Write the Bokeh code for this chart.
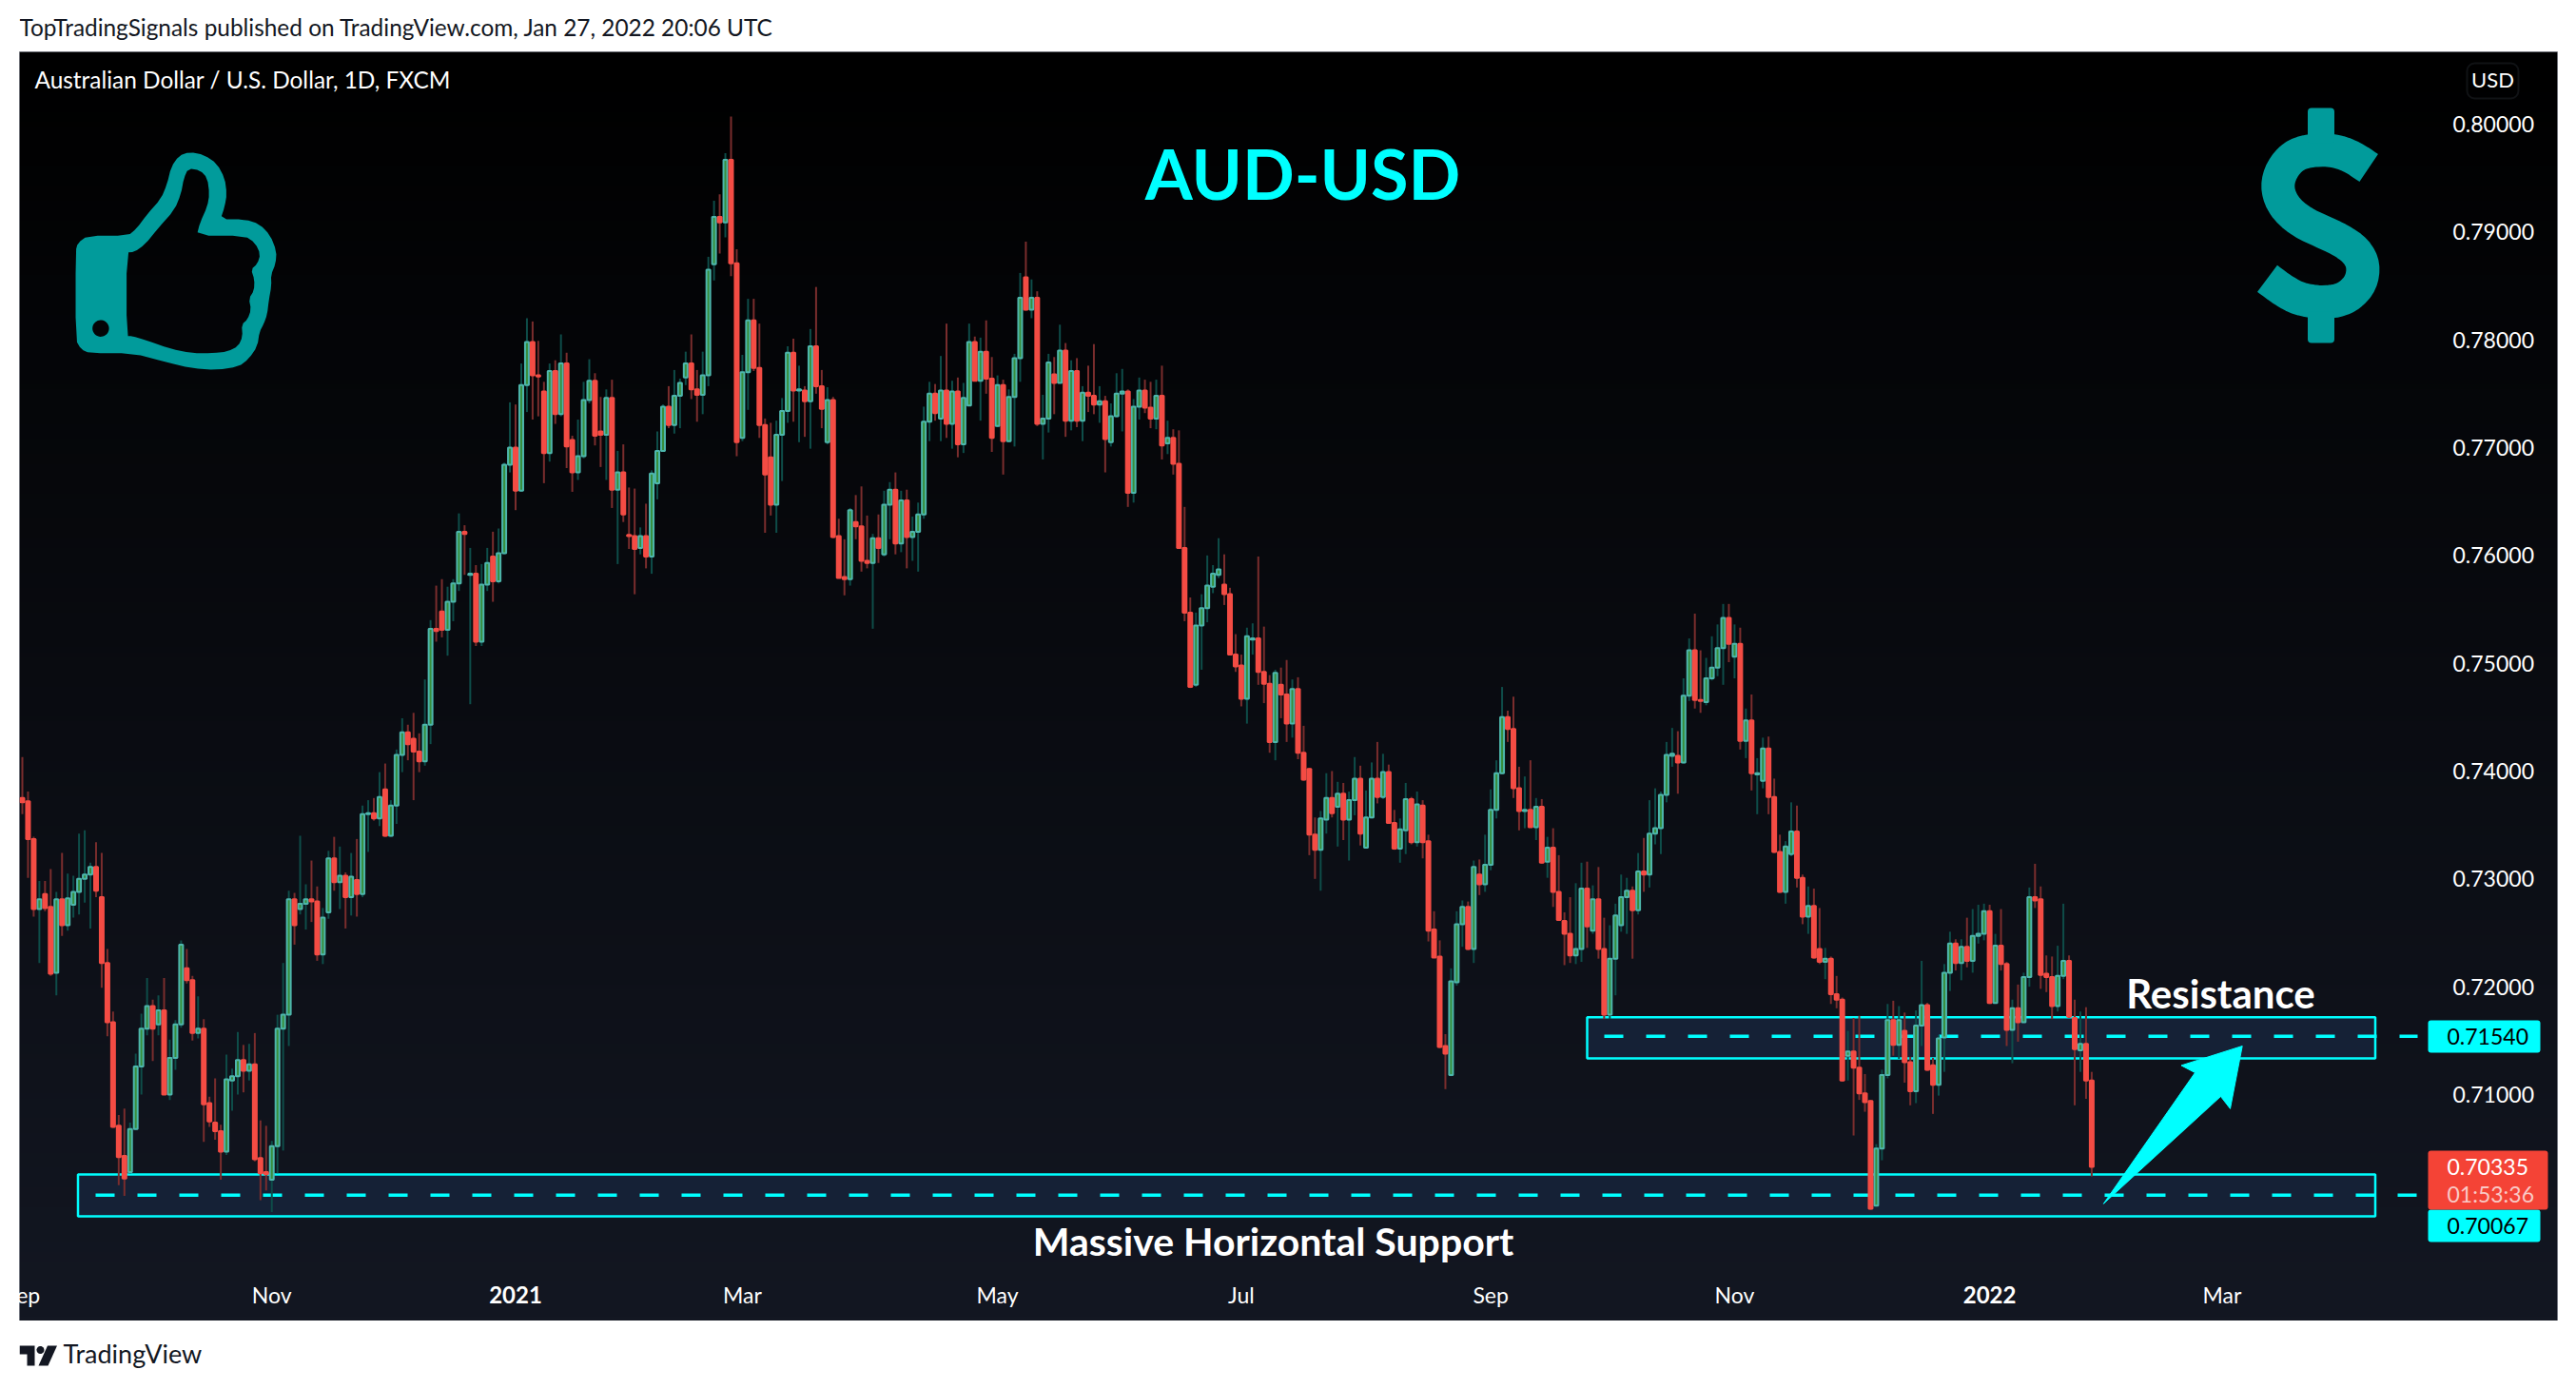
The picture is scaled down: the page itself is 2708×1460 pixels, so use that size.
import numpy as np
from bokeh.plotting import figure
from bokeh.layouts import column
from bokeh.embed import file_html
from bokeh.resources import INLINE
from bokeh.core.properties import value
from bokeh.models import (Range1d, LinearAxis, FixedTicker, PrintfTickFormatter, BoxAnnotation)

# AUD/USD daily candles, in pips (1 pip = 0.0001)
opens = [
 7375,7372,7337,7272,7286,7274,7213,7281,7257,7276, 7288,7300,7304,7311,7283,7222,7167,7071,7043,7028,
 7068,7126,7161,7182,7165,7178,7100,7134,7165,7217, 7206,7157,7161,7092,7074,7066,7047,7113,7117,7132,
 7122,7128,7041,7028,7021,7052,7161,7174,7281,7272, 7277,7281,7279,7230,7269,7319,7297,7303,7283,7299,
 7286,7360,7361,7356,7383,7340,7368,7415,7436,7430, 7418,7409,7443,7532,7548,7531,7557,7574,7622,7582,
 7583,7520,7573,7599,7576,7602,7684,7700,7660,7758, 7798,7767,7752,7695,7771,7731,7778,7707,7677,7692,
 7744,7762,7715,7712,7746,7661,7677,7619,7618,7607, 7618,7599,7667,7697,7738,7721,7748,7765,7778,7754,
 7749,7767,7870,7914,7909,7967,7871,7709,7770,7818, 7774,7721,7691,7647,7712,7734,7788,7753,7753,7743,
 7794,7757,7705,7744,7618,7580,7578,7631,7627,7595, 7593,7616,7601,7647,7661,7611,7651,7617,7622,7638,
 7724,7750,7727,7753,7722,7752,7703,7739,7798,7762, 7789,7764,7720,7758,7706,7747,7783,7858,7828,7839,
 7722,7727,7768,7760,7790,7725,7771,7725,7751,7748, 7740,7743,7705,7729,7750,7752,7658,7738,7753,7737,
 7727,7748,7704,7709,7685,7607,7547,7480,7535,7551, 7571,7582,7573,7564,7508,7498,7467,7522,7523,7492,
 7481,7427,7480,7471,7444,7476,7417,7402,7341,7327, 7355,7375,7367,7379,7355,7373,7393,7329,7357,7393,
 7376,7399,7352,7328,7345,7374,7334,7368,7335,7253, 7228,7145,7118,7204,7258,7274,7235,7304,7295,7313,
 7364,7398,7450,7439,7384,7363,7364,7348,7367,7316, 7329,7288,7261,7249,7229,7235,7291,7252,7281,7235,
 7174,7226,7257,7283,7289,7271,7307,7304,7342,7347, 7378,7414,7414,7408,7470,7512,7466,7464,7486,7496,
 7514,7542,7506,7518,7428,7447,7397,7391,7421,7376, 7325,7288,7323,7344,7301,7265,7275,7235,7223,7226,
 7193,7188,7136,7140,7125,7101,7094,6997,7050,7118, 7169,7146,7159,7130,7103,7164,7183,7127,7109,7153,
 7213,7240,7222,7237,7224,7247,7249,7270,7185,7238, 7221,7160,7180,7167,7209,7283,7281,7212,7209,7182,
 7210,7224,7171,7141,7147,7113]
highs = [
 7413,7381,7339,7298,7298,7309,7288,7324,7305,7303, 7342,7345,7315,7334,7324,7235,7177,7081,7087,7074,
 7138,7175,7208,7188,7192,7208,7151,7169,7243,7235, 7210,7191,7170,7098,7115,7072,7137,7124,7158,7146,
 7147,7157,7076,7071,7057,7174,7222,7289,7287,7340, 7295,7317,7293,7273,7326,7339,7330,7306,7324,7337,
 7368,7373,7375,7399,7407,7373,7420,7449,7443,7454, 7435,7485,7540,7572,7578,7571,7578,7639,7628,7607,
 7591,7592,7607,7622,7625,7686,7742,7740,7778,7820, 7817,7799,7761,7778,7781,7805,7788,7711,7726,7761,
 7782,7769,7747,7754,7763,7697,7703,7663,7662,7626, 7648,7679,7715,7740,7757,7772,7764,7789,7805,7772,
 7789,7877,7929,7935,7973,8007,7884,7786,7838,7838, 7815,7727,7723,7725,7746,7794,7801,7776,7757,7810,
 7849,7772,7756,7747,7634,7615,7644,7656,7664,7637, 7620,7638,7660,7668,7677,7660,7661,7636,7649,7738,
 7761,7759,7785,7815,7762,7765,7760,7815,7803,7802, 7818,7784,7767,7763,7754,7787,7862,7891,7856,7845,
 7749,7787,7784,7814,7797,7781,7783,7757,7776,7796, 7757,7748,7741,7769,7773,7754,7745,7765,7763,7761,
 7763,7776,7725,7717,7716,7645,7561,7547,7564,7600, 7591,7616,7601,7570,7527,7508,7533,7537,7599,7534,
 7489,7494,7496,7503,7485,7487,7442,7403,7357,7363, 7398,7400,7390,7389,7381,7413,7405,7382,7408,7427,
 7416,7406,7364,7356,7389,7376,7381,7373,7341,7270, 7243,7156,7217,7270,7280,7279,7317,7318,7341,7383,
 7410,7478,7456,7469,7404,7395,7410,7375,7374,7339, 7347,7322,7269,7283,7296,7315,7316,7294,7311,7264,
 7257,7277,7304,7301,7293,7324,7338,7373,7384,7381, 7427,7440,7437,7486,7523,7546,7512,7505,7525,7536,
 7555,7555,7536,7533,7458,7471,7412,7431,7432,7393, 7341,7335,7371,7368,7304,7293,7291,7273,7236,7228,
 7210,7190,7159,7171,7173,7119,7095,7054,7123,7184, 7187,7182,7176,7135,7178,7224,7185,7134,7155,7221,
 7251,7244,7244,7264,7272,7276,7277,7276,7249,7272, 7223,7188,7202,7213,7292,7314,7293,7229,7228,7238,
 7277,7229,7188,7177,7181,7121]
lows = [
 7360,7301,7265,7222,7270,7210,7192,7247,7252,7264, 7267,7278,7254,7283,7199,7154,7069,7016,7006,7027,
 7067,7100,7155,7131,7155,7100,7095,7123,7162,7203, 7150,7152,7056,7070,7058,7021,7044,7085,7100,7102,
 7113,7038,7002,7011,6991,7027,7048,7145,7239,7267, 7253,7260,7224,7221,7263,7289,7272,7254,7266,7265,
 7283,7325,7354,7349,7339,7339,7351,7399,7410,7373, 7399,7405,7425,7520,7524,7507,7539,7567,7582,7462,
 7516,7516,7567,7557,7574,7601,7677,7642,7659,7733, 7726,7729,7667,7687,7722,7729,7681,7659,7670,7690,
 7741,7702,7682,7670,7644,7592,7631,7606,7564,7601, 7588,7583,7652,7696,7718,7713,7718,7758,7745,7724,
 7731,7757,7855,7880,7895,7859,7692,7706,7735,7771, 7709,7621,7637,7621,7669,7723,7724,7705,7710,7699,
 7750,7718,7703,7616,7579,7563,7572,7615,7585,7588, 7532,7593,7599,7615,7601,7603,7588,7595,7585,7634,
 7706,7725,7706,7709,7699,7691,7695,7739,7762,7725, 7750,7696,7719,7675,7705,7701,7761,7827,7820,7720,
 7689,7714,7731,7760,7710,7716,7719,7706,7733,7731, 7723,7677,7701,7728,7715,7645,7649,7726,7732,7718,
 7717,7689,7694,7675,7606,7539,7477,7478,7494,7538, 7565,7579,7554,7508,7492,7460,7444,7508,7480,7463,
 7417,7410,7449,7427,7431,7411,7391,7322,7300,7289, 7342,7357,7330,7336,7317,7359,7331,7328,7356,7370,
 7374,7352,7327,7315,7323,7332,7330,7319,7242,7227, 7143,7105,7117,7201,7237,7234,7222,7285,7288,7308,
 7356,7397,7427,7375,7345,7347,7348,7336,7314,7301, 7274,7261,7220,7222,7221,7223,7236,7249,7226,7170,
 7170,7192,7251,7249,7226,7267,7288,7292,7332,7323, 7371,7404,7379,7407,7465,7458,7454,7461,7484,7488,
 7480,7501,7486,7420,7412,7382,7360,7384,7360,7324, 7287,7277,7321,7292,7258,7249,7226,7221,7207,7184,
 7180,7112,7113,7062,7095,7084,6993,6996,7039,7115, 7136,7133,7111,7090,7092,7145,7122,7082,7099,7121,
 7196,7215,7206,7218,7213,7240,7243,7184,7185,7215, 7145,7129,7149,7167,7200,7273,7198,7195,7170,7177,
 7207,7171,7090,7121,7096,7024]
closes = [
 7371,7337,7272,7281,7273,7212,7281,7257,7282,7288, 7300,7304,7311,7289,7222,7167,7070,7042,7022,7068,
 7126,7161,7182,7161,7178,7100,7134,7165,7239,7206, 7157,7161,7091,7075,7066,7047,7114,7117,7132,7122,
 7128,7040,7027,7026,7052,7161,7174,7281,7257,7277, 7281,7279,7230,7264,7319,7297,7303,7283,7302,7286,
 7360,7361,7356,7376,7340,7368,7415,7436,7425,7418, 7409,7443,7532,7530,7531,7557,7574,7622,7620,7583,
 7520,7573,7593,7576,7602,7684,7700,7660,7758,7798, 7767,7766,7695,7771,7731,7778,7701,7677,7692,7744,
 7762,7711,7712,7746,7661,7677,7638,7618,7606,7618, 7599,7676,7697,7738,7721,7748,7760,7778,7754,7749,
 7767,7865,7914,7909,7967,7871,7705,7770,7818,7774, 7721,7675,7647,7712,7734,7788,7753,7754,7743,7794,
 7757,7736,7744,7617,7579,7578,7642,7627,7595,7593, 7616,7607,7647,7661,7611,7651,7617,7622,7638,7724,
 7750,7732,7753,7722,7752,7703,7746,7798,7762,7789, 7764,7709,7758,7706,7747,7783,7839,7828,7839,7722,
 7727,7779,7760,7790,7725,7771,7725,7751,7748,7740, 7743,7708,7729,7750,7752,7658,7738,7753,7737,7727,
 7748,7702,7709,7685,7607,7547,7478,7535,7551,7572, 7583,7587,7564,7508,7497,7467,7525,7523,7492,7481,
 7427,7491,7471,7444,7476,7417,7392,7341,7327,7356, 7375,7361,7379,7355,7373,7393,7342,7357,7393,7376,
 7399,7352,7328,7346,7374,7334,7369,7334,7252,7227, 7144,7138,7205,7258,7274,7235,7311,7295,7313,7364,
 7398,7450,7439,7384,7363,7364,7348,7367,7315,7329, 7288,7262,7249,7229,7235,7291,7256,7281,7235,7174,
 7226,7266,7283,7289,7271,7307,7304,7342,7347,7378, 7415,7416,7408,7470,7512,7466,7465,7486,7496,7514,
 7542,7518,7518,7428,7447,7398,7398,7421,7376,7325, 7288,7330,7344,7301,7265,7275,7227,7223,7226,7193,
 7188,7113,7140,7125,7101,7093,6994,7050,7118,7169, 7146,7169,7130,7103,7164,7183,7123,7109,7152,7213,
 7240,7222,7237,7224,7247,7249,7270,7185,7238,7221, 7160,7180,7167,7209,7283,7280,7211,7209,7182,7210,
 7224,7172,7142,7147,7113,7033]

price_ticks = [0.71, 0.72, 0.73, 0.74, 0.75, 0.76, 0.77, 0.78, 0.79, 0.80]
month_idx = [44, 127, 172, 215, 259, 302, 388]
month_labels = ["Nov", "Mar", "May", "Jul", "Sep", "Nov", "Mar"]
year_idx = [87, 347]
year_labels = ["2021", "2022"]
support_price = 0.70067
support_top = 0.70259
support_bottom = 0.69870
resist_price = 0.71540
resist_top = 0.71717
resist_bottom = 0.71335
last_price = 0.70335

CYAN = "#00FFFF"
TEAL = "#019B9B"
FONT = "Lato"
TXT = "#FFFFFF"
DARK = "#131722"

def X(px):
    return (np.asarray(px, dtype=float) - 23.0) / 5.96

def Y(py):
    return 0.80 - (np.asarray(py, dtype=float) - 130.0) / 11333.0

def chaikin(xs, ys, closed=True, n=1):
    pts = np.column_stack([xs, ys]).astype(float)
    for _ in range(n):
        if closed:
            nxt = np.roll(pts, -1, axis=0)
            pts = np.column_stack([0.75*pts + 0.25*nxt, 0.25*pts + 0.75*nxt]).reshape(-1, 2)
        else:
            a, b = pts[:-1], pts[1:]
            mid = np.column_stack([0.75*a + 0.25*b, 0.25*a + 0.75*b]).reshape(-1, 2)
            pts = np.vstack([pts[0], mid, pts[-1]])
    return pts[:, 0], pts[:, 1]

o = np.array(opens) / 1e4
h = np.array(highs) / 1e4
l = np.array(lows) / 1e4
c = np.array(closes) / 1e4
idx = np.arange(len(o))
up = c >= o

p = figure(frame_width=2668, frame_height=1334, output_backend="svg", toolbar_location=None,
           x_range=Range1d(float(X(20)), float(X(2688))), y_range=Range1d(float(Y(1388)), float(Y(54))),
           x_axis_location=None, y_axis_location=None, min_border_left=20, min_border_right=20,
           min_border_top=0, min_border_bottom=0, background_fill_color="#000000",
           border_fill_color="#FFFFFF", outline_line_color="#9598A1", outline_line_width=1)
p.grid.visible = False

# vertical background gradient
top_c, bot_c = np.array([0, 0, 0]), np.array([19, 23, 34])
grad = np.zeros((256, 1), dtype=np.uint32)
view = grad.view(dtype=np.uint8).reshape((256, 1, 4))
for i in range(256):
    col = bot_c + (top_c - bot_c) * (i / 255)
    view[i, 0] = [int(col[0]), int(col[1]), int(col[2]), 255]
p.image_rgba(image=[grad], x=float(X(20)), y=float(Y(1388)), dw=float(X(2688) - X(20)),
             dh=float(Y(54) - Y(1388)), level="image")

# zones
ZONE = "#152136"
p.quad(left=[float(X(81.5)), float(X(1668))], right=[float(X(2496.5)), float(X(2496.5))],
       top=[support_top, resist_top], bottom=[support_bottom, resist_bottom],
       fill_color=ZONE, line_color=CYAN, line_width=2.5)
p.line([float(X(100)), float(X(2541))], [support_price, support_price], line_color=CYAN,
       line_width=3.5, line_dash="20 24")
p.line([float(X(1686)), float(X(2541))], [resist_price, resist_price], line_color=CYAN,
       line_width=3.5, line_dash="20 24")

# candles
p.segment(idx[up], h[up], idx[up], l[up], line_color="#0E4D49", line_width=2)
p.segment(idx[~up], h[~up], idx[~up], l[~up], line_color="#7A2D2D", line_width=2)
bw = 4 / 5.96
p.vbar(x=idx[up], width=bw, top=c[up], bottom=o[up], fill_color="#388E3C", line_color="#4DB6AC", line_width=2)
p.vbar(x=idx[~up], width=bw, top=o[~up], bottom=c[~up], fill_color="#F44C44", line_color="#F44C44", line_width=2)

# real axes, with their labels drawn inside the chart as TradingView does
ax_r = LinearAxis(ticker=FixedTicker(ticks=price_ticks), formatter=PrintfTickFormatter(format="%.5f"),
                  axis_line_color=None, major_tick_line_color=None, minor_tick_line_color=None,
                  major_label_standoff=-116, major_label_text_color=TXT, major_label_text_font=FONT,
                  major_label_text_font_size="23px")
p.add_layout(ax_r, "right")
ax_b = LinearAxis(ticker=FixedTicker(ticks=month_idx),
                  major_label_overrides={i: t for i, t in zip(month_idx, month_labels)},
                  axis_line_color=None, major_tick_line_color=None, minor_tick_line_color=None,
                  major_label_standoff=-48, major_label_text_color=TXT, major_label_text_font=FONT,
                  major_label_text_font_size="23px")
p.add_layout(ax_b, "below")

def txt(px, py, s, size, color=TXT, style="normal", align="left", level="overlay"):
    p.text([float(X(px))], [float(Y(py))], text=[s], text_font=value(FONT), text_font_size=size,
           text_color=color, text_font_style=style, text_align=align, text_baseline="middle", level=level)

# year ticks (bold) and the clipped first month
for i, s in zip(year_idx, year_labels):
    p.text([i], [float(Y(1360))], text=[s], text_font=value(FONT), text_font_size="24px", text_color=TXT,
           text_font_style="bold", text_align="center", text_baseline="middle", level="overlay")
p.text([0], [float(Y(1360))], text=["Sep"], text_font=value(FONT), text_font_size="23px", text_color=TXT,
       text_align="center", text_baseline="middle", level="overlay")

# chart annotations
txt(36, 83, "Australian Dollar / U.S. Dollar, 1D, FXCM", "24.4px")
txt(1369, 181, "AUD-USD", "72px", color=CYAN, style="bold", align="center")
txt(1338, 1304, "Massive Horizontal Support", "41px", style="bold", align="center")
txt(2334, 1043, "Resistance", "42px", style="bold", align="center")

# arrow
ax_px = [2210.8, 2307, 2292.5, 2356.7, 2344, 2334]
ay_px = [1264.8, 1127, 1119.4, 1099, 1164.9, 1152]
p.patch(X(ax_px), Y(ay_px), fill_color=CYAN, line_color=CYAN, line_width=1, line_join="round")

# USD box
p.add_layout(BoxAnnotation(left=float(X(2593)), right=float(X(2647)), top=float(Y(66)), bottom=float(Y(103)),
                           fill_alpha=0, line_color="#363A45", line_width=2, border_radius=8))
txt(2620, 83, "USD", "22px", align="center")

# price badges
for top, bot, right, col in [(1072, 1106, 2670, CYAN), (1271, 1305, 2670, CYAN), (1209, 1271, 2678, "#F44336")]:
    p.add_layout(BoxAnnotation(left=float(X(2552)), right=float(X(right)), top=float(Y(top)), bottom=float(Y(bot)),
                               fill_color=col, fill_alpha=1, line_color=None, border_radius=3))
txt(2572, 1089, f"{resist_price:.5f}", "23px", color="#000000")
txt(2572, 1288, f"{support_price:.5f}", "23px", color="#000000")
txt(2572, 1226, f"{last_price:.5f}", "23px")
txt(2572, 1254, "01:53:36", "23px", color="#F9C9C5")

# thumb icon
tx_o = [177,182,205,300,320,345,378,392,402,420,445,480,510,528,533,528,518,575,610,635,650,648,637,638,632,628,620,610,605,585,560,510,450,390,310,210,190,177]
ty_o = [790,765,742,742,720,675,625,580,525,490,478,487,515,560,610,650,690,690,705,740,790,830,865,900,945,990,1020,1045,1090,1130,1155,1165,1160,1140,1112,1112,1100,1070]
tx_i = [297,315,340,370,410,425,432,442,470,487,492,487,470,462,575,600,612,605,590,598,597,585,590,582,568,570,560,535,500,450,400,340,310,297]
ty_i = [795,793,770,720,660,610,560,530,535,560,610,650,700,742,742,765,800,830,848,880,915,940,975,1005,1022,1060,1090,1107,1112,1112,1098,1070,1058,1058]
def thumb_pts(xs, ys):
    a, b = chaikin(np.array(xs) / 2.24, np.array(ys) / 3.0)
    return list(X(a)), list(Y(b))
ox, oy = thumb_pts(tx_o, ty_o)
ix, iy = thumb_pts(tx_i, ty_i)
ang = np.linspace(0, 2 * np.pi, 40)[:-1]
hx, hy = list(X(105.4 + 8.7 * np.cos(ang))), list(Y(344.7 + 8.7 * np.sin(ang)))
p.multi_polygons(xs=[[[ox, ix, hx]]], ys=[[[oy, iy, hy]]], fill_color=TEAL, line_color=None)

# dollar icon
sx = [569,520,470,415,350,310,283,283,310,360,420,480,530,553,545,510,470,415,350,300,249]
sy = [408,375,355,350,360,390,440,490,540,580,608,635,670,715,770,810,828,832,822,795,757]
dx, dy = chaikin(2300 + np.array(sx) / 3.0, 40 + np.array(sy) / 3.0, closed=False, n=2)
p.line(X(dx), Y(dy), line_color=TEAL, line_width=35, line_join="round", line_cap="butt")
for t, b in [(113, 150), (327, 360)]:
    p.add_layout(BoxAnnotation(left=float(X(2425.5)), right=float(X(2453.5)), top=float(Y(t)), bottom=float(Y(b)),
                               fill_color=TEAL, fill_alpha=1, line_color=None, border_radius=4))

# page header and footer, as strips above and below the chart; their x range is the chart frame's pixel span
def strip(h_px):
    f = figure(width=2708, height=h_px, output_backend="svg", toolbar_location=None,
               x_range=Range1d(20, 2688), y_range=Range1d(h_px, 0), x_axis_location=None, y_axis_location=None,
               min_border=0, outline_line_color=None, background_fill_color="#FFFFFF", border_fill_color="#FFFFFF")
    f.grid.visible = False
    return f

head = strip(54)
head.text([20], [28], text=["TopTradingSignals published on TradingView.com, Jan 27, 2022 20:06 UTC"],
          text_font=value(FONT), text_font_size="24.4px", text_color=DARK, text_baseline="middle")

foot = strip(72)
foot.text([66], [34], text=["TradingView"], text_font=value(FONT), text_font_size="27px",
          text_color=DARK, text_baseline="middle")
foot.patch([20, 36, 36, 28, 28, 20], [26, 26, 47, 47, 35, 35], fill_color=DARK, line_color=None)
foot.patch([59.5, 50, 40, 49.5], [26, 47, 47, 26], fill_color=DARK, line_color=None)
a2 = np.linspace(0, 2 * np.pi, 20)[:-1]
foot.patch(42 + 4 * np.cos(a2), 30.5 + 4 * np.sin(a2), fill_color=DARK, line_color=None)

page = column(head, p, foot, spacing=0)
open("out.html", "w").write(file_html(page, INLINE))
